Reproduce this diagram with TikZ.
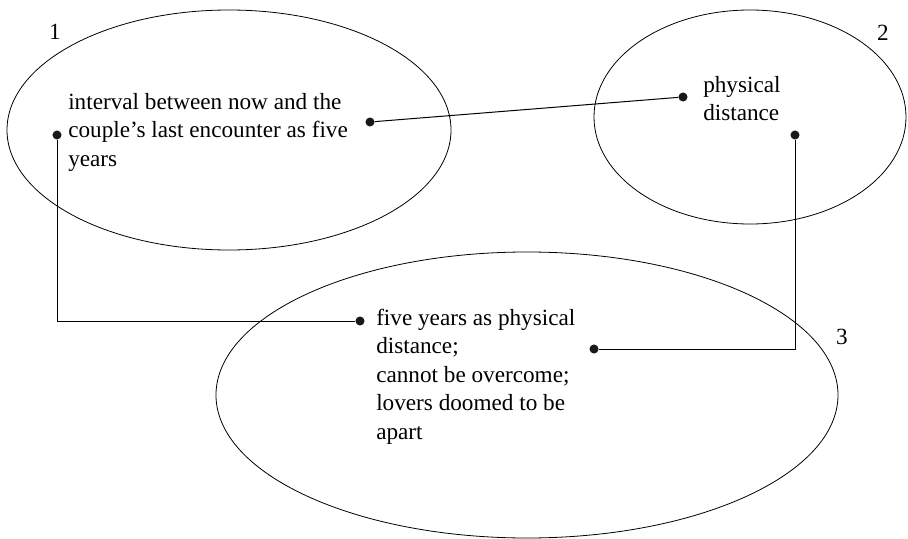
\documentclass[tikz,border=0pt]{standalone}
\usepackage{fontspec}
\setmainfont{Liberation Serif}
\usetikzlibrary{shapes.geometric}
\begin{document}
\begin{tikzpicture}[x=0.75pt,y=-0.75pt,
  region/.style={draw, ellipse, line width=0.6pt, inner sep=0pt},
  dot/.style={circle, fill=black!90, inner sep=0pt, minimum size=6.8pt},
  % multi-line labels are placed by the baseline of their last line
  txt/.style={font=\fontsize{17.4pt}{21.3pt}\selectfont, align=left, anchor=base west, inner sep=0pt},
  num/.style={font=\fontsize{17.4pt}{21.3pt}\selectfont, inner sep=0pt},
  link/.style={line width=0.75pt}]
\useasboundingbox (0,0) rectangle (908,539);

% the three regions
\node[region, minimum width=333pt, minimum height=180pt] (r1) at (229,130) {};
\node[region, minimum width=234pt, minimum height=160.5pt] (r2) at (750,117) {};
\node[region, minimum width=466.5pt, minimum height=214.5pt] (r3) at (527,395) {};

% region numbers
\node[num] (n1) at (55,32) {1};
\node[num] (n2) at (883,33) {2};
\node[num] (n3) at (842,337) {3};

% texts
\node[txt] (t1) at (68,166) {interval between now and the\\couple’s last encounter as five\\years};
\node[txt] (t2) at (703,120.5) {physical\\distance};
\node[txt] (t3) at (376,439) {five years as physical\\distance;\\cannot be overcome;\\lovers doomed to be\\apart};

% connector end points
\node[dot] (d1) at (57,135) {};
\node[dot] (d2) at (370,122) {};
\node[dot] (d3) at (683,97) {};
\node[dot] (d4) at (795,135) {};
\node[dot] (d5) at (360,321) {};
\node[dot] (d6) at (594,349) {};

% connectors
\draw[link] (d1) |- (d5);
\draw[link] (d2) -- (d3);
\draw[link] (d4) |- (d6);
\end{tikzpicture}
\end{document}
